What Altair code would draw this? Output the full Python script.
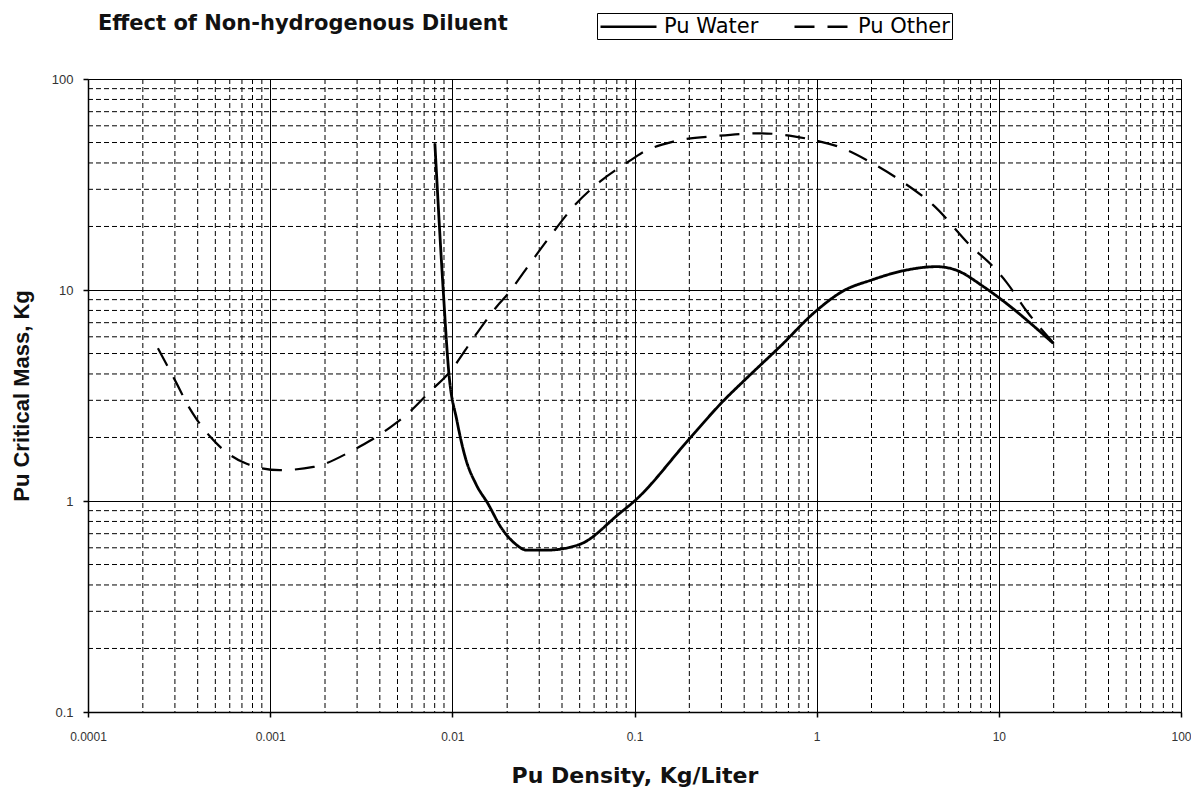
import altair as alt
import pandas as pd

# ---- data ----
water_x = [0.00802, 0.00891, 0.00957, 0.0106, 0.0118, 0.0135,
           0.0157, 0.0185, 0.022, 0.0256, 0.033, 0.05, 0.083, 0.1, 0.201, 0.305,
           0.41, 0.63, 1.0, 1.4, 2.0, 3.0, 4.55, 5.86, 8.2, 10.1, 19.9]
water_y = [49.5, 10.0, 4.04, 2.4, 1.6, 1.2,
           0.97, 0.75, 0.63, 0.585, 0.585, 0.623, 0.875, 1.0, 1.98, 2.96,
           3.8, 5.4, 8.0, 9.9, 11.15, 12.35, 12.9, 12.4, 10.4, 9.14, 5.59]

other_x = [0.000242, 0.000307, 0.000355, 0.000395, 0.000468, 0.000519, 0.000743,
           0.00113, 0.00173, 0.00299, 0.00361, 0.00474, 0.00573, 0.00753, 0.00957,
           0.0133, 0.0175, 0.0203, 0.0256, 0.0343, 0.0471, 0.0646, 0.0944, 0.109,
           0.163, 0.282, 0.49, 0.75, 1.0, 1.3, 1.95, 2.86, 4.35, 7.1, 9.3, 11.0,
           14.3, 20.0]
other_y = [5.3, 3.6, 2.82, 2.44, 2.02, 1.84, 1.50,
           1.40, 1.45, 1.78, 1.95, 2.29, 2.61, 3.30, 4.04,
           6.05, 8.33, 9.64, 12.7, 17.9, 25.3, 32.6, 41.0, 44.5,
           50.5, 53.7, 55.3, 53.5, 51.0, 48.0, 40.6, 33.2, 25.3, 16.0, 12.9, 10.9,
           7.89, 5.6]

series_names = ["Pu Water", "Pu Other"]

x_major = [0.0001, 0.001, 0.01, 0.1, 1, 10, 100]
y_major = [0.1, 1, 10, 100]
x_decades = [0.0001, 0.001, 0.01, 0.1, 1, 10]
y_decades = [0.1, 1, 10]
multipliers = [2, 3, 4, 5, 6, 7, 8, 9]

x_minor = [d * m for d in x_decades for m in multipliers]
y_minor = [d * m for d in y_decades for m in multipliers]

df = pd.DataFrame({
    "x": water_x + other_x,
    "y": water_y + other_y,
    "series": [series_names[0]] * len(water_x) + [series_names[1]] * len(other_x),
})
df_xminor = pd.DataFrame({"gx": x_minor})
df_yminor = pd.DataFrame({"gy": y_minor})

FONT = "Liberation Sans"
WIDE = "DejaVu Sans"

xscale = alt.Scale(type="log", domain=[0.0001, 100], nice=False)
yscale = alt.Scale(type="log", domain=[0.1, 100], nice=False)

xaxis = alt.Axis(values=x_major, format="~g", title="Pu Density, Kg/Liter",
                 grid=True, gridColor="black", gridOpacity=1, gridWidth=1,
                 domainColor="black", domainWidth=1.5, tickColor="black",
                 tickSize=5, tickWidth=1.5, labelPadding=14, labelFont=FONT,
                 labelFontSize=12, labelColor="#333", titleFont=WIDE,
                 titleFontSize=22, titleFontWeight="bold", titleColor="#111",
                 titlePadding=23, labelFlush=False)
yaxis = alt.Axis(values=y_major, format="~g", title="Pu Critical Mass, Kg",
                 grid=True, gridColor="black", gridOpacity=1, gridWidth=1,
                 domainColor="black", domainWidth=1.5, tickColor="black",
                 tickSize=5, tickWidth=1.5, labelPadding=10, labelFont=FONT,
                 labelFontSize=13, labelColor="#333", titleFont=FONT,
                 titleFontSize=22, titleFontWeight="bold", titleColor="#111",
                 titlePadding=18, labelFlush=False)

dash_enc = alt.StrokeDash(
    "series:N",
    scale=alt.Scale(domain=series_names, range=[[1, 0], [20, 13]]),
    legend=alt.Legend(
        title=None, orient="none", legendX=509, legendY=-66,
        direction="horizontal", symbolType="M-2.8,0H2.8", symbolSize=400,
        symbolOffset=18, symbolStrokeWidth=2.5, symbolStrokeColor="black",
        symbolFillColor="transparent",
        labelFont=WIDE, labelFontSize=21, labelColor="black",
        strokeColor="black", fillColor="white", padding=2,
        columnPadding=30, labelOffset=24, labelLimit=250,
    ),
)

xminor = alt.Chart(df_xminor).mark_rule(color="black", strokeWidth=1, strokeDash=[5, 3]).encode(
    x=alt.X("gx:Q", scale=xscale, axis=xaxis)
)
yminor = alt.Chart(df_yminor).mark_rule(color="black", strokeWidth=1, strokeDash=[5, 3]).encode(
    y=alt.Y("gy:Q", scale=yscale, axis=yaxis)
)

base = alt.Chart(df).encode(
    x=alt.X("x:Q", scale=xscale, axis=xaxis),
    y=alt.Y("y:Q", scale=yscale, axis=yaxis),
    strokeDash=dash_enc,
)
water = base.transform_filter(alt.datum.series == series_names[0]).mark_line(
    color="black", strokeWidth=2.8, interpolate="monotone")
other = base.transform_filter(alt.datum.series == series_names[1]).mark_line(
    color="black", strokeWidth=2.2, interpolate="monotone")

chart = alt.layer(xminor, yminor, water, other).properties(
    width=1093, height=633,
    title=alt.TitleParams("Effect of Non-hydrogenous Diluent", anchor="start",
                          frame="group", font=WIDE, fontSize=21, fontWeight="bold",
                          color="#111", dx=10, offset=-21),
    autosize=alt.AutoSizeParams(type="none"),
    padding={"left": 80, "top": 71, "right": 10, "bottom": 80},
).configure_view(stroke="#808080", strokeWidth=1.5).configure(background="white")

chart.save("out.html", embed_options={"renderer": "svg", "actions": False})
